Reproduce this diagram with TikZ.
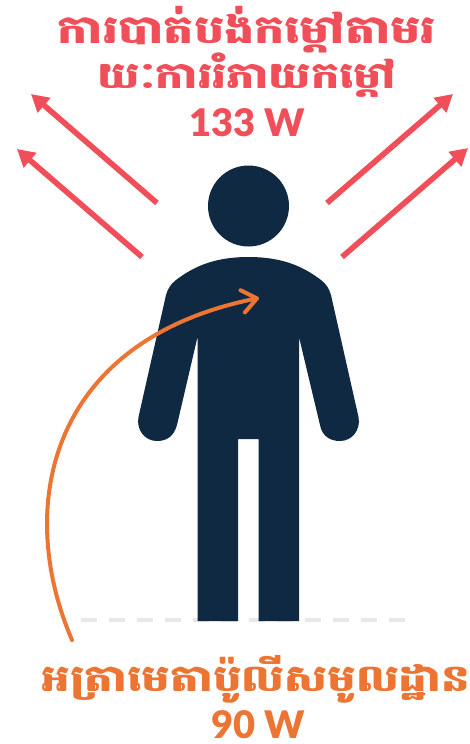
\documentclass[tikz,border=0pt]{standalone}
\usepackage{fontspec}
\newfontfamily\khfont[Script=Khmer,FakeStretch=1.22]{Battambang}
\newfontfamily\latfont[BoldFont={Lato Black}]{Lato}
\definecolor{navy}{HTML}{0F2942}
\definecolor{heatred}{HTML}{F04E58}
\definecolor{heatorange}{HTML}{EC7533}
\definecolor{floorgray}{HTML}{E8E8E8}
\usetikzlibrary{arrows.meta}
\tikzset{
  lossarrow/.style={draw=heatred,line width=4.2pt,-{Triangle[length=13pt,width=14pt]}},
  gainarrow/.style={draw=heatorange,line width=3pt,line cap=round,-{Straight Barb[length=11pt,width=17pt,line width=3pt,round]}},
  redkh/.style={text=heatred,font=\khfont\bfseries\fontsize{29.3}{30}\selectfont,inner sep=0pt},
  redkhb/.style={text=heatred,font=\khfont\bfseries\fontsize{27.4}{28}\selectfont,inner sep=0pt},
  redlat/.style={text=heatred,font=\latfont\bfseries\fontsize{28.5}{28}\selectfont,inner sep=0pt},
  orkh/.style={text=heatorange,font=\khfont\bfseries\fontsize{27.7}{28}\selectfont,inner sep=0pt},
  orlat/.style={text=heatorange,font=\latfont\bfseries\fontsize{28.5}{28}\selectfont,inner sep=0pt},
}
\begin{document}
\begin{tikzpicture}[x=0.75pt,y=-0.75pt]
\useasboundingbox (0,0) rectangle (469,744);
% floor
\draw[floorgray,line width=3pt,dash pattern=on 12pt off 9pt] (81,620) -- (405,620);
% figure
\fill[navy] (248.5,206) circle (40.5);
\fill[navy] (248.5,257)
  .. controls (285,257) and (305,268) .. (321,280)
  .. controls (326,284) and (329,288) .. (331,295)
  -- (358.5,417)
  .. controls (361,430) and (352,441) .. (340,441)
  .. controls (330,441) and (322,436) .. (320,425)
  -- (299,337) -- (299,621) -- (258.5,621) -- (258.5,439) -- (238,439) -- (238,621) -- (197.5,621) -- (197.5,337)
  -- (177,425)
  .. controls (174,436) and (167,441) .. (157,441)
  .. controls (145,441) and (136,430) .. (138.5,417)
  -- (166,295)
  .. controls (168,288) and (171,284) .. (176,280)
  .. controls (192,268) and (212,257) .. (248.5,257) -- cycle;
% arrows
\coordinate (a1s) at (157,203); \coordinate (a1e) at (31,94);
\coordinate (a2s) at (142,257); \coordinate (a2e) at (17,149);
\coordinate (a3s) at (327,203); \coordinate (a3e) at (453,94);
\coordinate (a4s) at (342,257); \coordinate (a4e) at (468,148);
\draw[lossarrow] (a1s) -- (a1e);
\draw[lossarrow] (a2s) -- (a2e);
\draw[lossarrow] (a3s) -- (a3e);
\draw[lossarrow] (a4s) -- (a4e);
\coordinate (gs) at (72,640); \coordinate (ge) at (259,298);
\draw[gainarrow] (gs) .. controls (14,505) and (50,340) .. (ge);
% text
\node[redkh] (t1) at (247,30) {ការបាត់បង់កម្តៅតាមរ};
\node[redkhb] (t2) at (247,75) {យៈការរំភាយកម្តៅ};
\node[redlat] (t3) at (247,123) {133 W};
\node[orkh] (b1) at (256,679) {អត្រាមេតាប៉ូលីសមូលដ្ឋាន};
\node[orlat] (b2) at (258,725) {90 W};
\end{tikzpicture}
\end{document}
